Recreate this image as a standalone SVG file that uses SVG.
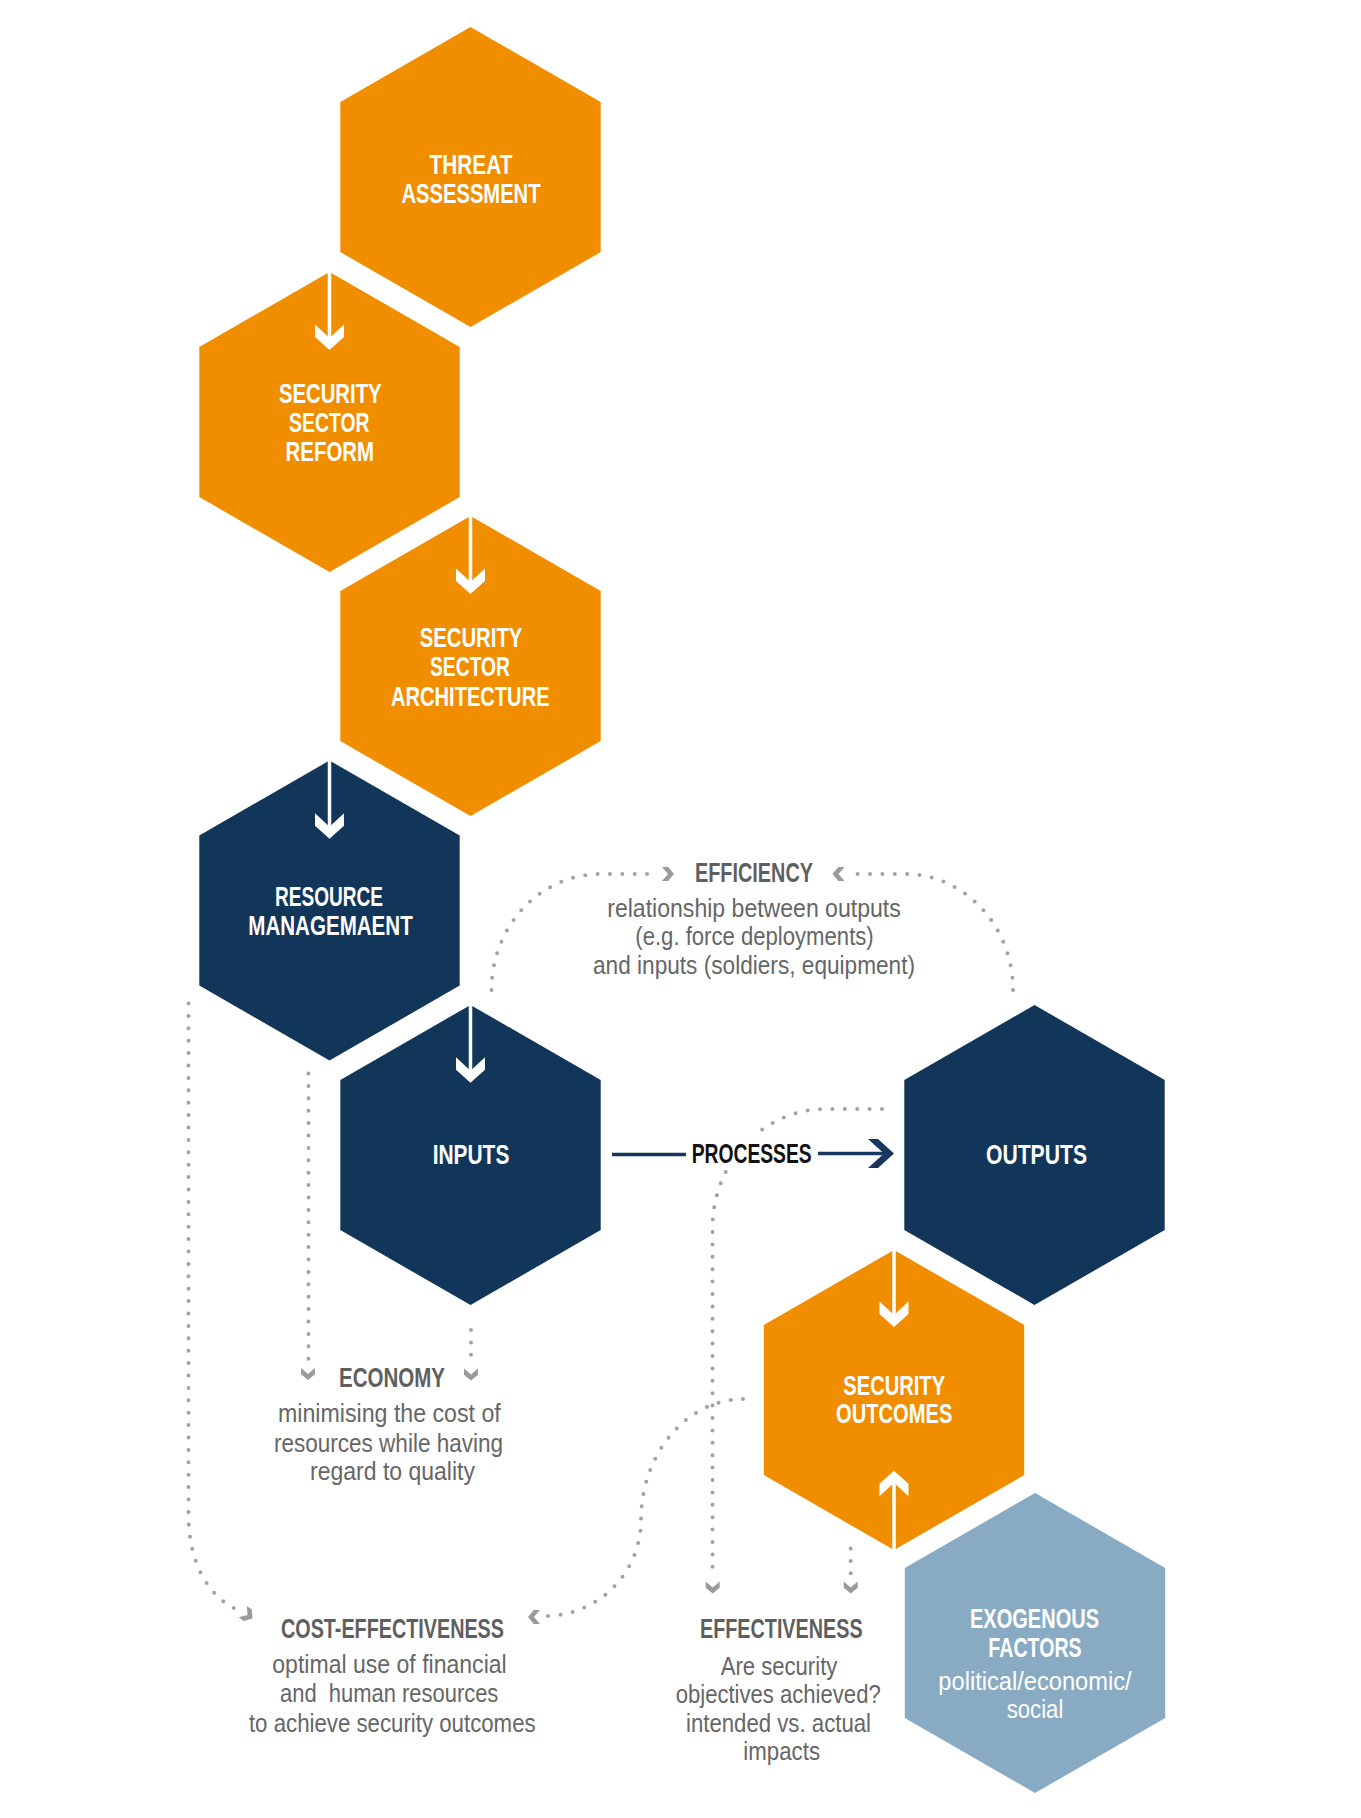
<svg xmlns="http://www.w3.org/2000/svg" width="1361" height="1818" viewBox="0 0 1361 1818">
<style>
.orange{fill:#F18E00}
.navy{fill:#12365A}
.blue{fill:#88ABC3}
.lbl{font-family:"Liberation Sans Narrow","Liberation Sans",Arial,sans-serif;font-weight:bold;font-size:28px;fill:#ffffff;text-anchor:middle}
.lblr{font-family:"Liberation Sans Narrow","Liberation Sans",Arial,sans-serif;font-size:25px;fill:#ffffff;text-anchor:middle}
.head{font-family:"Liberation Sans Narrow","Liberation Sans",Arial,sans-serif;font-weight:bold;font-size:28px;fill:#5f5f5f;text-anchor:middle}
.desc{font-family:"Liberation Sans Narrow","Liberation Sans",Arial,sans-serif;font-size:25px;fill:#666666;text-anchor:middle}
.dot{fill:none;stroke:#a2a2a2;stroke-width:4;stroke-linecap:round;stroke-dasharray:0 12.4}
.wline{fill:none;stroke:#ffffff;stroke-width:3.5}
.wchev{fill:#ffffff}
.gchev{fill:#9a9a9a}
.nline{fill:none;stroke:#17375E;stroke-width:3.5}
</style>
<defs>
<polygon id="hex" points="0,-150 130.2,-75.1 130.2,75.1 0,150 -130.2,75.1 -130.2,-75.1"/>
<path id="bigchev" d="M-14.5,-25.5 L0,-12 L14.5,-25.5 L14.5,-13 L0,0 L-14.5,-13 Z"/>
<path id="smallchev" d="M-7,-12 L0,-6 L7,-12 L7,-5.8 L0,0 L-7,-5.8 Z"/>
</defs>
<rect x="0" y="0" width="1361" height="1818" fill="#ffffff"/>

<g id="threat-assessment">
<use href="#hex" x="470.5" y="177" class="orange"/>
<text class="lbl" x="471" y="174" textLength="83" lengthAdjust="spacingAndGlyphs">THREAT</text>
<text class="lbl" x="471" y="203" textLength="139" lengthAdjust="spacingAndGlyphs">ASSESSMENT</text>
</g>

<g id="security-sector-reform">
<use href="#hex" x="329.5" y="422" class="orange"/>
<text class="lbl" x="330.3" y="403" textLength="102.7" lengthAdjust="spacingAndGlyphs">SECURITY</text>
<text class="lbl" x="329.3" y="432.4" textLength="80.4" lengthAdjust="spacingAndGlyphs">SECTOR</text>
<text class="lbl" x="329.8" y="461.2" textLength="88.4" lengthAdjust="spacingAndGlyphs">REFORM</text>
</g>

<g id="security-sector-architecture">
<use href="#hex" x="470.5" y="666" class="orange"/>
<text class="lbl" x="471" y="647.3" textLength="102.7" lengthAdjust="spacingAndGlyphs">SECURITY</text>
<text class="lbl" x="470" y="676" textLength="80" lengthAdjust="spacingAndGlyphs">SECTOR</text>
<text class="lbl" x="470.3" y="705.5" textLength="158.5" lengthAdjust="spacingAndGlyphs">ARCHITECTURE</text>
</g>

<g id="resource-management">
<use href="#hex" x="329.5" y="910.5" class="navy"/>
<text class="lbl" x="329" y="906" textLength="108" lengthAdjust="spacingAndGlyphs">RESOURCE</text>
<text class="lbl" x="330.5" y="935" textLength="164.4" lengthAdjust="spacingAndGlyphs">MANAGEMAENT</text>
</g>

<g id="inputs">
<use href="#hex" x="470.5" y="1155" class="navy"/>
<text class="lbl" x="471" y="1164.3" textLength="76.7" lengthAdjust="spacingAndGlyphs">INPUTS</text>
</g>

<g id="outputs">
<use href="#hex" x="1034.5" y="1155" class="navy"/>
<text class="lbl" x="1036.5" y="1164.3" textLength="101" lengthAdjust="spacingAndGlyphs">OUTPUTS</text>
</g>

<g id="security-outcomes">
<use href="#hex" x="894" y="1400" class="orange"/>
<text class="lbl" x="894.2" y="1395" textLength="101.7" lengthAdjust="spacingAndGlyphs">SECURITY</text>
<text class="lbl" x="894.2" y="1423.3" textLength="116.3" lengthAdjust="spacingAndGlyphs">OUTCOMES</text>
</g>

<g id="exogenous-factors">
<use href="#hex" x="1035" y="1643" class="blue"/>
<text class="lbl" x="1034.5" y="1627.7" textLength="129" lengthAdjust="spacingAndGlyphs">EXOGENOUS</text>
<text class="lbl" x="1035" y="1656.7" textLength="93.3" lengthAdjust="spacingAndGlyphs">FACTORS</text>
<text class="lblr" x="1035" y="1690" textLength="193.3" lengthAdjust="spacingAndGlyphs">political/economic/</text>
<text class="lblr" x="1035" y="1718.3" textLength="56.7" lengthAdjust="spacingAndGlyphs">social</text>
</g>

<g id="efficiency">
<text class="head" x="754" y="882" textLength="118" lengthAdjust="spacingAndGlyphs">EFFICIENCY</text>
<text class="desc" x="754" y="916.5" textLength="293.5" lengthAdjust="spacingAndGlyphs">relationship between outputs</text>
<text class="desc" x="754.5" y="945" textLength="238.4" lengthAdjust="spacingAndGlyphs">(e.g. force deployments)</text>
<text class="desc" x="754" y="974" textLength="322" lengthAdjust="spacingAndGlyphs">and inputs (soldiers, equipment)</text>
</g>

<g id="processes">
<text class="head" x="751.7" y="1163.3" textLength="120" lengthAdjust="spacingAndGlyphs" style="fill:#111111">PROCESSES</text>
</g>

<g id="economy">
<text class="head" x="392" y="1387.3" textLength="106" lengthAdjust="spacingAndGlyphs">ECONOMY</text>
<text class="desc" x="389.4" y="1422" textLength="222.7" lengthAdjust="spacingAndGlyphs">minimising the cost of</text>
<text class="desc" x="388.5" y="1451.7" textLength="229" lengthAdjust="spacingAndGlyphs">resources while having</text>
<text class="desc" x="392.5" y="1480" textLength="165" lengthAdjust="spacingAndGlyphs">regard to quality</text>
</g>

<g id="cost-effectiveness">
<text class="head" x="392.5" y="1638.3" textLength="223" lengthAdjust="spacingAndGlyphs">COST-EFFECTIVENESS</text>
<text class="desc" x="389.5" y="1673.3" textLength="234.4" lengthAdjust="spacingAndGlyphs">optimal use of financial</text>
<text class="desc" x="389.2" y="1702.3" textLength="218.3" lengthAdjust="spacingAndGlyphs" style="white-space:pre">and  human resources</text>
<text class="desc" x="392.3" y="1731.7" textLength="286.7" lengthAdjust="spacingAndGlyphs">to achieve security outcomes</text>
</g>

<g id="effectiveness">
<text class="head" x="781.3" y="1638.3" textLength="162.7" lengthAdjust="spacingAndGlyphs">EFFECTIVENESS</text>
<text class="desc" x="779" y="1675" textLength="116.7" lengthAdjust="spacingAndGlyphs">Are security</text>
<text class="desc" x="778.2" y="1703.3" textLength="205" lengthAdjust="spacingAndGlyphs">objectives achieved?</text>
<text class="desc" x="778.5" y="1731.7" textLength="185" lengthAdjust="spacingAndGlyphs">intended vs. actual</text>
<text class="desc" x="781.7" y="1760" textLength="76.7" lengthAdjust="spacingAndGlyphs">impacts</text>
</g>

<g id="connectors">
<line class="wline" x1="329.5" y1="266" x2="329.5" y2="340"/>
<use href="#bigchev" x="329.5" y="350" class="wchev"/>
<line class="wline" x1="470.5" y1="510" x2="470.5" y2="584"/>
<use href="#bigchev" x="470.5" y="594" class="wchev"/>
<line class="wline" x1="329.5" y1="755" x2="329.5" y2="829"/>
<use href="#bigchev" x="329.5" y="838.7" class="wchev"/>
<line class="wline" x1="470.5" y1="999" x2="470.5" y2="1073"/>
<use href="#bigchev" x="470.5" y="1082.7" class="wchev"/>
<line class="wline" x1="894" y1="1244" x2="894" y2="1317"/>
<use href="#bigchev" x="894" y="1327" class="wchev"/>
<line class="wline" x1="894" y1="1556" x2="894" y2="1481"/>
<use href="#bigchev" transform="translate(894 1470.7) rotate(180)" class="wchev"/>

<line class="nline" x1="612" y1="1154.5" x2="686" y2="1154.5"/>
<line class="nline" x1="818" y1="1153.5" x2="885" y2="1153.5"/>
<polygon points="868,1139 878,1139 894,1153.5 878,1168 868,1168 884,1153.5" fill="#17375E"/>

<path class="dot" d="M491.5,990 A109,116 0 0 1 600.5,874 H652"/>
<use href="#smallchev" transform="translate(674 874) rotate(-90)" class="gchev"/>
<path class="dot" d="M1013,990 A108,116 0 0 0 905,874 H853"/>
<use href="#smallchev" transform="translate(832.5 874) rotate(90)" class="gchev"/>

<path class="dot" d="M308.5,1073.5 V1362"/>
<use href="#smallchev" x="308" y="1380" class="gchev"/>
<path class="dot" d="M471,1330 V1360"/>
<use href="#smallchev" x="471" y="1380.5" class="gchev"/>

<path class="dot" d="M188.5,1003.5 V1515 C188.5,1565 210,1598 238,1610"/>
<use href="#smallchev" transform="translate(252.5 1618.5) rotate(-55)" class="gchev"/>
<path class="dot" d="M743,1399 A103,121 0 0 0 641,1520 A96,96 0 0 1 545,1616 L540,1616.3"/>
<use href="#smallchev" transform="translate(528 1617) rotate(90)" class="gchev"/>

<path class="dot" d="M882,1109 H826 A114,120 0 0 0 752.8,1137"/>
<path class="dot" d="M725.7,1172 A114,120 0 0 0 712.5,1229 V1570"/>
<use href="#smallchev" x="712.7" y="1593.5" class="gchev"/>
<path class="dot" d="M850.7,1548.5 V1576"/>
<use href="#smallchev" x="850.7" y="1593.5" class="gchev"/>
</g>
</svg>
